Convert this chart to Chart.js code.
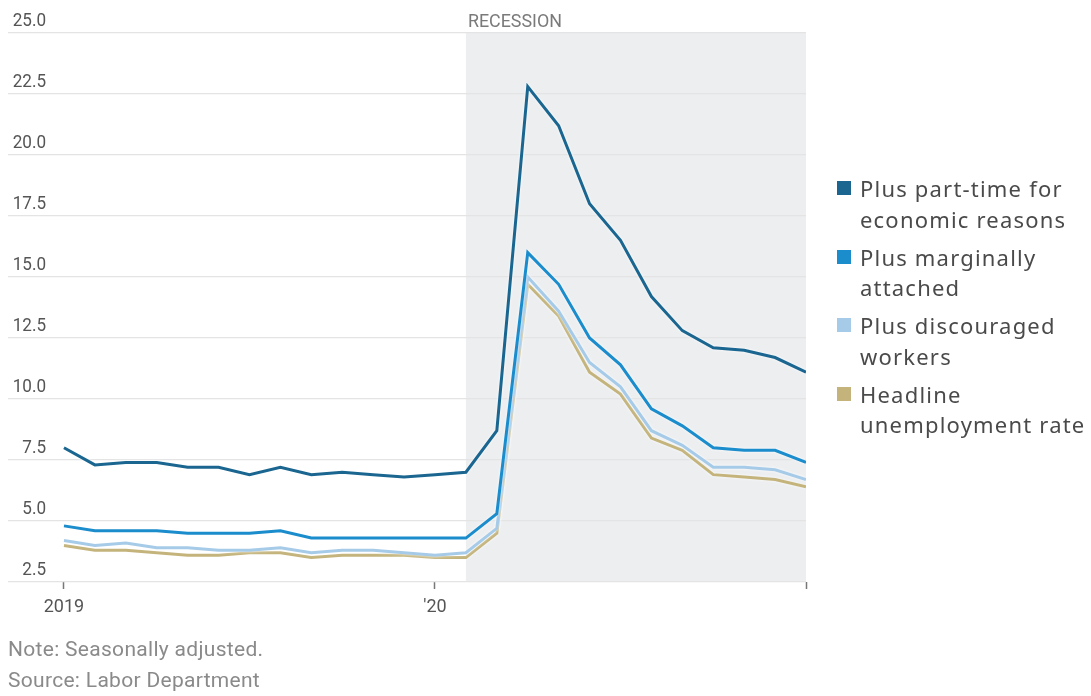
<!DOCTYPE html>
<html>
<head>
<meta charset="utf-8">
<script src="https://cdn.jsdelivr.net/npm/chart.js@4/dist/chart.umd.min.js"></script>
<style>
  html, body { margin: 0; padding: 0; background: #fff; }
  #wrap { position: relative; width: 1091px; height: 696px; overflow: hidden; }
  canvas { position: absolute; left: 0; top: 0; }
  #legend { position: absolute; left: 837px; top: 173px; font-family: "Noto Sans", "Open Sans", sans-serif; font-size: 22px; letter-spacing: 1.2px; color: #4a4a4a; }
  .item { position: relative; padding-left: 23px; line-height: 30.5px; margin-bottom: 7.5px; white-space: nowrap; }
  .sw { position: absolute; left: 0; top: 8px; width: 14px; height: 14px; }
  .note { position: absolute; left: 8px; font-family: Roboto, sans-serif; font-size: 21px; letter-spacing: 0.3px; color: #8a8a8a; white-space: nowrap; }
</style>
</head>
<body>
<div id="wrap">
  <canvas id="c" width="1091" height="696"></canvas>
  <div id="legend"></div>
  <div class="note" style="top:637px">Note: Seasonally adjusted.</div>
  <div class="note" style="top:668px">Source: Labor Department</div>
</div>
<script>
// Monthly observations, January 2019 through January 2021
const months = ['2019-01','2019-02','2019-03','2019-04','2019-05','2019-06','2019-07','2019-08','2019-09','2019-10','2019-11','2019-12',
                '2020-01','2020-02','2020-03','2020-04','2020-05','2020-06','2020-07','2020-08','2020-09','2020-10','2020-11','2020-12',
                '2021-01'];

// Alternative measures of labor underutilization, percent
const partTime    = [8.0, 7.3, 7.4, 7.4, 7.2, 7.2, 6.9, 7.2, 6.9, 7.0, 6.9, 6.8, 6.9, 7.0, 8.7, 22.8, 21.2, 18.0, 16.5, 14.2, 12.8, 12.1, 12.0, 11.7, 11.1];
const marginal    = [4.8, 4.6, 4.6, 4.6, 4.5, 4.5, 4.5, 4.6, 4.3, 4.3, 4.3, 4.3, 4.3, 4.3, 5.3, 16.0, 14.7, 12.5, 11.4, 9.6, 8.9, 8.0, 7.9, 7.9, 7.4];
const discouraged = [4.2, 4.0, 4.1, 3.9, 3.9, 3.8, 3.8, 3.9, 3.7, 3.8, 3.8, 3.7, 3.6, 3.7, 4.7, 15.0, 13.6, 11.5, 10.5, 8.7, 8.1, 7.2, 7.2, 7.1, 6.7];
const headline    = [4.0, 3.8, 3.8, 3.7, 3.6, 3.6, 3.7, 3.7, 3.5, 3.6, 3.6, 3.6, 3.5, 3.5, 4.5, 14.7, 13.4, 11.1, 10.2, 8.4, 7.9, 6.9, 6.8, 6.7, 6.4];

const seriesNames  = [['Plus part-time for', 'economic reasons'], ['Plus marginally', 'attached'], ['Plus discouraged', 'workers'], ['Headline', 'unemployment rate']];
const seriesColors = ['#1a6690', '#1b8ccc', '#a6cbe8', '#c4b47c'];

// Axis ticks
const yTicks = [2.5, 5.0, 7.5, 10.0, 12.5, 15.0, 17.5, 20.0, 22.5, 25.0];
const xTickPositions = [0, 12, 24];
const xTickLabels = ['2019', "'20", ''];

// Recession period, as month indexes
const recessionStart = 13;
const recessionEnd = 24;

const axisFont = 'Roboto, sans-serif';

const toPoints = arr => arr.map((v, i) => ({ x: i, y: v }));
const seriesValues = [partTime, marginal, discouraged, headline];

// Draws text squeezed horizontally by sx
function narrowText(ctx, text, x, y, sx) {
  ctx.save();
  ctx.translate(x, y);
  ctx.scale(sx, 1);
  ctx.fillText(text, 0, 0);
  ctx.restore();
}

const recessionBand = {
  id: 'recessionBand',
  beforeDraw(chart) {
    const { ctx, chartArea, scales } = chart;
    const x0 = scales.x.getPixelForValue(recessionStart);
    const x1 = scales.x.getPixelForValue(recessionEnd);
    ctx.save();
    ctx.fillStyle = '#eceef0';
    ctx.fillRect(x0, chartArea.top, x1 - x0, chartArea.bottom - chartArea.top);
    ctx.fillStyle = '#7a7a7a';
    ctx.font = '19px ' + axisFont;
    ctx.textAlign = 'left';
    ctx.textBaseline = 'middle';
    narrowText(ctx, 'RECESSION', x0 + 2, 22, 0.94);
    ctx.restore();
  }
};

const yLabels = {
  id: 'yLabels',
  afterDraw(chart) {
    const { ctx, scales } = chart;
    ctx.save();
    ctx.fillStyle = '#555';
    ctx.font = '19px ' + axisFont;
    ctx.textAlign = 'right';
    ctx.textBaseline = 'middle';
    yTicks.forEach(v => {
      const y = scales.y.getPixelForValue(v);
      narrowText(ctx, v.toFixed(1), 46, y - 11.5, 0.9);
    });
    ctx.restore();
  }
};

// Soft white edge around each line
const lineHalo = {
  id: 'lineHalo',
  beforeDatasetDraw(chart) {
    const ctx = chart.ctx;
    ctx.save();
    ctx.shadowColor = 'rgba(255,255,255,0.95)';
    ctx.shadowBlur = 3;
  },
  afterDatasetDraw(chart) {
    chart.ctx.restore();
  }
};

new Chart(document.getElementById('c'), {
  type: 'line',
  data: {
    labels: months,
    datasets: seriesValues.map((vals, i) => ({
      label: seriesNames[i].join(' '),
      data: toPoints(vals),
      borderColor: seriesColors[i],
      backgroundColor: seriesColors[i],
      borderWidth: 3,
      pointRadius: 0,
      tension: 0,
      fill: false
    }))
  },
  options: {
    responsive: false,
    animation: false,
    devicePixelRatio: 1,
    layout: { padding: { top: 33, right: 285, left: 0, bottom: 0 } },
    plugins: { legend: { display: false }, tooltip: { enabled: false } },
    scales: {
      x: {
        type: 'linear',
        min: -1.81,
        max: 24,
        afterBuildTicks: s => { s.ticks = xTickPositions.map(v => ({ value: v })); },
        afterFit: s => { s.height = 114; },
        ticks: {
          autoSkip: false,
          maxRotation: 0,
          padding: 8,
          color: '#555',
          font: { family: axisFont, size: 18 },
          callback: v => xTickLabels[xTickPositions.indexOf(v)] ?? ''
        },
        grid: { drawOnChartArea: false, drawTicks: true, tickLength: 7, color: '#777', tickWidth: 1.5 },
        border: { display: false }
      },
      y: {
        min: 2.5,
        max: 25,
        afterBuildTicks: s => { s.ticks = yTicks.map(v => ({ value: v })); },
        afterFit: s => { s.width = 8; },
        ticks: { display: false },
        grid: { color: '#e4e4e4', lineWidth: 1.2, drawTicks: false },
        border: { display: false }
      }
    }
  },
  plugins: [recessionBand, yLabels, lineHalo]
});

// Legend built from the series names and colors
const legend = document.getElementById('legend');
seriesNames.forEach((lines, i) => {
  const item = document.createElement('div');
  item.className = 'item';
  const sw = document.createElement('span');
  sw.className = 'sw';
  sw.style.background = seriesColors[i];
  item.appendChild(sw);
  lines.forEach((t, j) => {
    if (j) item.appendChild(document.createElement('br'));
    item.appendChild(document.createTextNode(t));
  });
  legend.appendChild(item);
});
</script>
</body>
</html>
